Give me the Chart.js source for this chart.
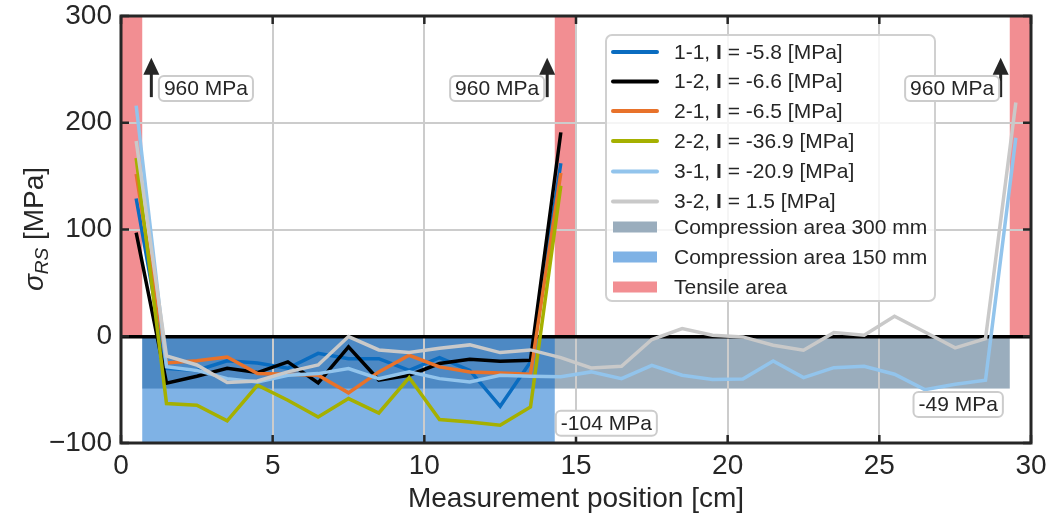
<!DOCTYPE html>
<html><head><meta charset="utf-8">
<script src="https://cdn.jsdelivr.net/npm/chart.js@4.4.1/dist/chart.umd.min.js"></script>
<style>html,body{margin:0;padding:0;background:#fff}canvas{display:block}</style>
</head><body>
<canvas id="c" width="1049" height="516"></canvas>
<script>
// ---------- data ----------
const pos300 = [0.5,1.5,2.5,3.5,4.5,5.5,6.5,7.5,8.5,9.5,10.5,11.5,12.5,13.5,14.5,
                15.5,16.5,17.5,18.5,19.5,20.5,21.5,22.5,23.5,24.5,25.5,26.5,27.5,28.5,29.5];
const pos150 = [0.5,1.5,2.5,3.5,4.5,5.5,6.5,7.5,8.5,9.5,10.5,11.5,12.5,13.5,14.5];

const s11 = [129,-30,-32,-23,-25,-30,-16,-21,-21,-32,-20,-32,-65.6,-24,162];
const s12 = [97,-44,-37.5,-30,-34,-24,-43.7,-10,-41,-36.5,-25.6,-21.6,-23.4,-22.5,191];
const s21 = [152,-25,-23,-19.4,-35,-35.6,-36.5,-53,-33.4,-17.8,-28.7,-33.4,-34.4,-35.6,153];
const s22 = [167,-63,-64.6,-79.3,-45.9,-60,-75.6,-58.4,-71.9,-38.7,-78,-80.3,-83.4,-66.2,141];
const s31 = [216,-28.6,-32,-39.7,-42.8,-36.5,-35,-30.3,-39.7,-33.4,-39.7,-42.8,-36.5,-37.5,-38,
             -33.4,-39.7,-27.2,-36.5,-40.6,-40,-23.1,-38.7,-29.4,-28.1,-35.6,-50,-45,-41.2,186];
const s32 = [183,-18.4,-26.9,-43.4,-41.9,-33.4,-26.9,-0.3,-12.8,-15.3,-11.2,-8.1,-15.3,-12.8,-20,
             -29.7,-28.1,-3.1,7.2,0.9,-0.6,-8.4,-13.1,3.4,0.9,18.7,4,-10.9,-2.2,219];

const seriesLabels = ['1-1, I = -5.8 [MPa]','1-2, I = -6.6 [MPa]','2-1, I = -6.5 [MPa]',
                      '2-2, I = -36.9 [MPa]','3-1, I = -20.9 [MPa]','3-2, I = 1.5 [MPa]'];

// shaded areas: [xStart, xEnd, yLow, yHigh]
const tensileAreas = [[0,0.7,0,300],[14.3,15,0,300],[29.3,30,0,300]];
const comp300 = [0.7,29.3,-49,0];
const comp150 = [0.7,14.3,-104,0];
const areaLabels = ['Compression area 300 mm','Compression area 150 mm','Tensile area'];

const xTicks = [0,5,10,15,20,25,30];
const yTicks = [-100,0,100,200,300];

// annotations
const arrowX = [1.0, 14.05, 29.0];
const arrowFrom = 224, arrowTo = 261;
const noteText = ['960 MPa','960 MPa','960 MPa','-104 MPa','-49 MPa'];
const noteX = [2.8, 12.4, 27.4, 16.0, 27.6];
const noteY = [232, 232, 232, -81.5, -64];

// ---------- styles ----------
const FONT = "'Liberation Sans', Arial, Helvetica, sans-serif";
const TXT = '#262626';
const lineColors = ['#0a6cc0','#000000','#e8722a','#a5b000','#92c4ec','#c9c9c9'];
const areaColors = ['#9aadbd','rgba(0,102,204,0.5)','#f28e92'];

Chart.defaults.font.family = FONT;
Chart.defaults.color = TXT;

function pts(xs, ys){ return xs.map((x,i)=>({x:x,y:ys[i]})); }
const allSeries = [[pos150,s11],[pos150,s12],[pos150,s21],[pos150,s22],[pos300,s31],[pos300,s32]];
const datasets = allSeries.map((s,i)=>({
  label: seriesLabels[i],
  data: pts(s[0], s[1]),
  borderColor: lineColors[i],
  backgroundColor: lineColors[i],
  borderWidth: 3.5,
  pointRadius: 0,
  tension: 0,
  fill: false,
  order: 6 - i
}));

function rectPx(chart, r){
  const {x, y} = chart.scales;
  const x0 = x.getPixelForValue(r[0]), x1 = x.getPixelForValue(r[1]);
  const y0 = y.getPixelForValue(r[2]), y1 = y.getPixelForValue(r[3]);
  return [x0, Math.min(y0,y1), x1-x0, Math.abs(y1-y0)];
}

const areasPlugin = {
  id: 'areas',
  beforeDraw(chart){
    const {ctx, chartArea:a} = chart;
    ctx.save();
    ctx.beginPath(); ctx.rect(a.left, a.top, a.right-a.left, a.bottom-a.top); ctx.clip();
    ctx.fillStyle = areaColors[0]; ctx.fillRect(...rectPx(chart, comp300));
    ctx.fillStyle = areaColors[1]; ctx.fillRect(...rectPx(chart, comp150));
    ctx.fillStyle = areaColors[2];
    tensileAreas.forEach(r => ctx.fillRect(...rectPx(chart, r)));
    ctx.restore();
  }
};

function roundRect(ctx, x, y, w, h, r){
  ctx.beginPath();
  ctx.moveTo(x+r, y); ctx.lineTo(x+w-r, y); ctx.arcTo(x+w, y, x+w, y+r, r);
  ctx.lineTo(x+w, y+h-r); ctx.arcTo(x+w, y+h, x+w-r, y+h, r);
  ctx.lineTo(x+r, y+h); ctx.arcTo(x, y+h, x, y+h-r, r);
  ctx.lineTo(x, y+r); ctx.arcTo(x, y, x+r, y, r);
  ctx.closePath();
}

const overlayPlugin = {
  id: 'overlay',
  afterDraw(chart){
    const {ctx, chartArea:a, scales:{x, y}} = chart;
    ctx.save();
    // frame
    ctx.strokeStyle = TXT; ctx.lineWidth = 3;
    ctx.strokeRect(a.left, a.top, a.right-a.left, a.bottom-a.top);
    // inward ticks
    ctx.lineWidth = 2.5;
    const tl = 8;
    xTicks.forEach(v=>{
      const px = x.getPixelForValue(v);
      ctx.beginPath();
      ctx.moveTo(px, a.bottom); ctx.lineTo(px, a.bottom - tl);
      ctx.moveTo(px, a.top); ctx.lineTo(px, a.top + tl);
      ctx.stroke();
    });
    yTicks.forEach(v=>{
      const py = y.getPixelForValue(v);
      ctx.beginPath();
      ctx.moveTo(a.left, py); ctx.lineTo(a.left + tl, py);
      ctx.moveTo(a.right, py); ctx.lineTo(a.right - tl, py);
      ctx.stroke();
    });

    // legend
    const L = {left: 606, top: 35, w: 329, h: 266};
    roundRect(ctx, L.left, L.top, L.w, L.h, 6);
    ctx.fillStyle = 'rgba(255,255,255,0.8)'; ctx.fill();
    ctx.strokeStyle = '#d0d0d0'; ctx.lineWidth = 2; ctx.stroke();
    const rows = [52, 81.5, 111, 141, 171.5, 201.5, 227, 257, 287];
    const sx0 = 613, sx1 = 657, tx = 674;
    ctx.textAlign = 'left'; ctx.textBaseline = 'middle';
    chart.data.datasets.forEach((d,i)=>{
      const ry = rows[i];
      ctx.strokeStyle = d.borderColor; ctx.lineWidth = 4; ctx.lineCap = 'round';
      ctx.beginPath(); ctx.moveTo(sx0, ry); ctx.lineTo(sx1, ry); ctx.stroke();
      ctx.lineCap = 'butt';
      const lab = d.label;
      const k = lab.indexOf('I =');
      const a1 = lab.slice(0,k), a2 = 'I', a3 = lab.slice(k+1);
      let cx = tx;
      ctx.fillStyle = TXT;
      ctx.font = '21px ' + FONT; ctx.fillText(a1, cx, ry + 1); cx += ctx.measureText(a1).width;
      ctx.font = 'bold 21px ' + FONT; ctx.fillText(a2, cx, ry + 1); cx += ctx.measureText(a2).width;
      ctx.font = '21px ' + FONT; ctx.fillText(a3, cx, ry + 1);
    });
    areaLabels.forEach((t,j)=>{
      const ry = rows[6 + j];
      ctx.fillStyle = j === 1 ? '#7fb2e5' : areaColors[j];
      ctx.fillRect(sx0, ry - 5.5, sx1 - sx0, 11);
      ctx.fillStyle = TXT; ctx.font = '21px ' + FONT;
      ctx.fillText(t, tx, ry + 1);
    });

    // arrows
    ctx.fillStyle = TXT; ctx.strokeStyle = TXT;
    arrowX.forEach(v=>{
      const px = x.getPixelForValue(v);
      const p0 = y.getPixelForValue(arrowFrom), p1 = y.getPixelForValue(arrowTo);
      ctx.lineWidth = 3;
      ctx.beginPath(); ctx.moveTo(px, p0); ctx.lineTo(px, p1 + 14); ctx.stroke();
      ctx.beginPath(); ctx.moveTo(px, p1); ctx.lineTo(px - 8, p1 + 17); ctx.lineTo(px + 8, p1 + 17);
      ctx.closePath(); ctx.fill();
    });

    // note labels
    ctx.font = '21px ' + FONT;
    ctx.textBaseline = 'middle'; ctx.textAlign = 'center';
    noteText.forEach((t,i)=>{
      const cx = x.getPixelForValue(noteX[i]), cy = y.getPixelForValue(noteY[i]);
      const w = ctx.measureText(t).width + 10, h = 25;
      roundRect(ctx, cx - w/2, cy - h/2, w, h, 5);
      ctx.fillStyle = '#ffffff'; ctx.fill();
      ctx.strokeStyle = '#cccccc'; ctx.lineWidth = 2; ctx.stroke();
      ctx.fillStyle = TXT; ctx.fillText(t, cx, cy + 1);
    });

    // y-axis title
    ctx.translate(33, 229); ctx.rotate(-Math.PI/2);
    const fMain = '28px ' + FONT, fIt = 'italic 28px ' + FONT, fSub = 'italic 19px ' + FONT;
    ctx.font = fIt; const w1 = ctx.measureText('σ').width;
    ctx.font = fSub; const w2 = ctx.measureText('RS').width;
    ctx.font = fMain; const w3 = ctx.measureText(' [MPa]').width;
    let sx = -(w1 + w2 + w3)/2;
    ctx.textAlign = 'left'; ctx.textBaseline = 'alphabetic'; ctx.fillStyle = TXT;
    ctx.font = fIt; ctx.fillText('σ', sx, 10); sx += w1;
    ctx.font = fSub; ctx.fillText('RS', sx, 15); sx += w2;
    ctx.font = fMain; ctx.fillText(' [MPa]', sx, 10);
    ctx.restore();
  }
};

new Chart(document.getElementById('c'), {
  type: 'line',
  data: { datasets },
  options: {
    responsive: false,
    animation: false,
    layout: { padding: { top: 16, right: 18, left: 0, bottom: 0 } },
    plugins: { legend: { display: false }, tooltip: { enabled: false } },
    scales: {
      x: {
        type: 'linear', min: 0, max: 30,
        afterBuildTicks: s => { s.ticks = xTicks.map(v => ({value: v})); },
        afterFit: s => { s.height = 73; s.paddingLeft = 0; s.paddingRight = 0; },
        ticks: { font: { size: 28 }, color: TXT, padding: 6, maxRotation: 0 },
        grid: { color: '#cccccc', lineWidth: 2, drawTicks: false },
        border: { display: false },
        title: { display: true, text: 'Measurement position [cm]', font: { size: 28 }, color: TXT, padding: { top: 2, bottom: 0 } }
      },
      y: {
        type: 'linear', min: -100, max: 300,
        afterBuildTicks: s => { s.ticks = yTicks.map(v => ({value: v})); },
        afterFit: s => { s.width = 121; s.paddingTop = 0; s.paddingBottom = 0; },
        ticks: { font: { size: 28 }, color: TXT, padding: 9,
                 callback: v => String(v).replace('-', '\u2212') },
        grid: {
          color: c => (c.tick && c.tick.value === 0) ? '#000000' : '#cccccc',
          lineWidth: c => (c.tick && c.tick.value === 0) ? 3.5 : 2,
          drawTicks: false
        },
        border: { display: false }
      }
    }
  },
  plugins: [areasPlugin, overlayPlugin]
});
</script>
</body></html>
